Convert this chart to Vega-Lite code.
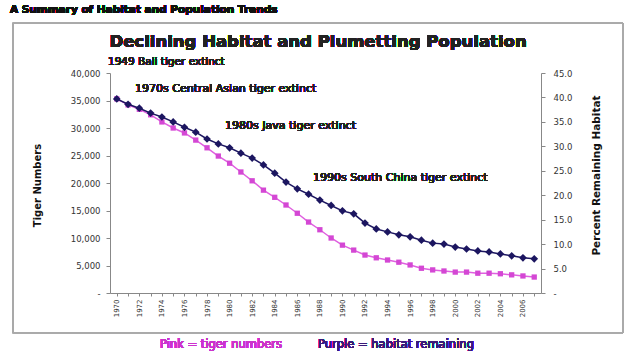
{
  "$schema": "https://vega.github.io/schema/vega-lite/v6.json",
  "width": 431,
  "height": 220,
  "autosize": "none",
  "padding": {"left": 110, "top": 73, "right": 99, "bottom": 58},
  "background": "white",
  "config": {
    "view": {"stroke": null},
    "font": "DejaVu Sans",
    "axis": {"domainColor": "#888", "tickColor": "#888", "labelColor": "#333", "labelFont": "DejaVu Sans", "titleFont": "DejaVu Sans", "grid": false, "labelOverlap": false}
  },
  "data": {
    "values": [
      {"year": 1970, "tigers": 35300, "habitat": 39.7},
      {"year": 1971, "tigers": 34200, "habitat": 38.6},
      {"year": 1972, "tigers": 33400, "habitat": 37.8},
      {"year": 1973, "tigers": 32400, "habitat": 36.8},
      {"year": 1974, "tigers": 31100, "habitat": 36.0},
      {"year": 1975, "tigers": 30000, "habitat": 35.0},
      {"year": 1976, "tigers": 29100, "habitat": 33.9},
      {"year": 1977, "tigers": 27800, "habitat": 32.9},
      {"year": 1978, "tigers": 26400, "habitat": 31.5},
      {"year": 1979, "tigers": 24900, "habitat": 30.5},
      {"year": 1980, "tigers": 23600, "habitat": 29.7},
      {"year": 1981, "tigers": 22000, "habitat": 28.6},
      {"year": 1982, "tigers": 20400, "habitat": 27.6},
      {"year": 1983, "tigers": 18700, "habitat": 26.2},
      {"year": 1984, "tigers": 17400, "habitat": 24.5},
      {"year": 1985, "tigers": 16000, "habitat": 22.7},
      {"year": 1986, "tigers": 14500, "habitat": 21.3},
      {"year": 1987, "tigers": 12900, "habitat": 20.2},
      {"year": 1988, "tigers": 11500, "habitat": 19.0},
      {"year": 1989, "tigers": 10000, "habitat": 17.9},
      {"year": 1990, "tigers": 8700, "habitat": 16.8},
      {"year": 1991, "tigers": 7800, "habitat": 16.2},
      {"year": 1992, "tigers": 6900, "habitat": 14.3},
      {"year": 1993, "tigers": 6400, "habitat": 13.1},
      {"year": 1994, "tigers": 6000, "habitat": 12.5},
      {"year": 1995, "tigers": 5600, "habitat": 11.9},
      {"year": 1996, "tigers": 5100, "habitat": 11.5},
      {"year": 1997, "tigers": 4500, "habitat": 10.8},
      {"year": 1998, "tigers": 4200, "habitat": 10.2},
      {"year": 1999, "tigers": 4000, "habitat": 10.0},
      {"year": 2000, "tigers": 3800, "habitat": 9.4},
      {"year": 2001, "tigers": 3800, "habitat": 9.0},
      {"year": 2002, "tigers": 3600, "habitat": 8.6},
      {"year": 2003, "tigers": 3600, "habitat": 8.4},
      {"year": 2004, "tigers": 3500, "habitat": 8.0},
      {"year": 2005, "tigers": 3300, "habitat": 7.6},
      {"year": 2006, "tigers": 3100, "habitat": 7.2},
      {"year": 2007, "tigers": 2900, "habitat": 7.0}
    ]
  },
  "layer": [
    {
      "mark": {"type": "line", "color": "#e060e0", "strokeWidth": 1.5,
               "point": {"shape": "square", "filled": true, "color": "#d447d4", "size": 28, "opacity": 1}},
      "encoding": {
        "x": {"field": "year", "type": "quantitative",
              "scale": {"domain": [1969.4, 2007.6], "nice": false, "zero": false},
              "axis": {"title": null, "values": [1970,1971,1972,1973,1974,1975,1976,1977,1978,1979,1980,1981,1982,1983,1984,1985,1986,1987,1988,1989,1990,1991,1992,1993,1994,1995,1996,1997,1998,1999,2000,2001,2002,2003,2004,2005,2006,2007],
                       "labelExpr": "datum.value % 2 == 0 ? datum.value : ''", "labelAngle": -90, "labelAlign": "right", "labelBaseline": "middle",
                       "labelFontSize": 7, "tickSize": 3, "labelPadding": 3, "labelOverlap": false, "labelFlush": false}},
        "y": {"field": "tigers", "type": "quantitative",
              "scale": {"domain": [0, 40000], "nice": false},
              "axis": {"title": "Tiger Numbers", "values": [0,5000,10000,15000,20000,25000,30000,35000,40000],
                       "labelExpr": "datum.value == 0 ? '-' : format(datum.value, ',')",
                       "labelFontSize": 8.5, "tickSize": 4, "labelPadding": 6, "labelOverlap": false,
                       "titleFontSize": 10, "titleFontWeight": "bold", "titleColor": "#111",
                       "titleX": -73, "titleY": 112, "titleAngle": -90, "titleBaseline": "middle", "titleAlign": "center"}}
      }
    },
    {
      "mark": {"type": "line", "color": "#1c1660", "strokeWidth": 1.5,
               "point": {"shape": "diamond", "filled": true, "color": "#1c1660", "size": 60, "opacity": 1}},
      "encoding": {
        "x": {"field": "year", "type": "quantitative",
              "scale": {"domain": [1969.4, 2007.6], "nice": false, "zero": false}, "axis": null},
        "y": {"field": "habitat", "type": "quantitative",
              "scale": {"domain": [0, 45], "nice": false},
              "axis": {"orient": "right", "title": "Percent Remaining Habitat", "values": [0,5,10,15,20,25,30,35,40,45],
                       "labelExpr": "datum.value == 0 ? '-' : format(datum.value, '.1f')",
                       "labelFontSize": 8.5, "tickSize": 4, "labelPadding": 8, "labelOverlap": false,
                       "titleFontSize": 10.5, "titleFontWeight": "bold", "titleColor": "#111",
                       "titleX": 55, "titleY": 102, "titleAngle": -90, "titleBaseline": "middle", "titleAlign": "center"}}
      }
    },
    {
      "layer": [
        {
          "mark": {"type": "rect", "fill": null, "stroke": "#aaa", "strokeWidth": 1, "clip": false},
          "encoding": {
            "x": {"datum": 1960.8, "type": "quantitative", "axis": null,
                  "scale": {"domain": [1969.4, 2007.6], "nice": false, "zero": false}},
            "x2": {"datum": 2014.87},
            "y": {"datum": 49090, "type": "quantitative", "axis": null,
                  "scale": {"domain": [0, 40000], "nice": false}},
            "y2": {"datum": -7270}
          }
        },
        {
          "mark": {"type": "text", "text": "A Summary of Habitat and Population Trends", "align": "left", "baseline": "middle", "fontSize": 10.5, "fontWeight": "bold", "color": "#111", "clip": false},
          "encoding": {"x": {"datum": 1960.53, "type": "quantitative", "axis": null}, "y": {"datum": 51450, "type": "quantitative", "axis": null}}
        },
        {
          "mark": {"type": "text", "text": "Declining Habitat and Plumetting Population", "align": "center", "baseline": "middle", "fontSize": 16.5, "fontWeight": "bold", "color": "#222", "clip": false},
          "encoding": {"x": {"datum": 1987.84, "type": "quantitative", "axis": null}, "y": {"datum": 45630, "type": "quantitative", "axis": null}}
        },
        {
          "mark": {"type": "text", "text": "1949 Bali tiger extinct", "align": "left", "baseline": "middle", "fontSize": 10.5, "color": "#222", "clip": false},
          "encoding": {"x": {"datum": 1969.22, "type": "quantitative", "axis": null}, "y": {"datum": 42000, "type": "quantitative", "axis": null}}
        },
        {
          "mark": {"type": "text", "text": "1970s Central Asian tiger extinct", "align": "left", "baseline": "middle", "fontSize": 11, "color": "#222", "clip": false},
          "encoding": {"x": {"datum": 1971.62, "type": "quantitative", "axis": null}, "y": {"datum": 37090, "type": "quantitative", "axis": null}}
        },
        {
          "mark": {"type": "text", "text": "1980s Java tiger extinct", "align": "left", "baseline": "middle", "fontSize": 11, "color": "#222", "clip": false},
          "encoding": {"x": {"datum": 1979.6, "type": "quantitative", "axis": null}, "y": {"datum": 30360, "type": "quantitative", "axis": null}}
        },
        {
          "mark": {"type": "text", "text": "1990s South China tiger extinct", "align": "left", "baseline": "middle", "fontSize": 11, "color": "#222", "clip": false},
          "encoding": {"x": {"datum": 1987.4, "type": "quantitative", "axis": null}, "y": {"datum": 20910, "type": "quantitative", "axis": null}}
        },
        {
          "mark": {"type": "text", "text": "Pink = tiger numbers", "align": "left", "baseline": "middle", "fontSize": 11.5, "color": "#cc33cc", "clip": false},
          "encoding": {"x": {"datum": 1973.83, "type": "quantitative", "axis": null}, "y": {"datum": -9450, "type": "quantitative", "axis": null}}
        },
        {
          "mark": {"type": "text", "text": "Purple = habitat remaining", "align": "left", "baseline": "middle", "fontSize": 11.5, "color": "#3a1a7a", "clip": false},
          "encoding": {"x": {"datum": 1987.84, "type": "quantitative", "axis": null}, "y": {"datum": -9450, "type": "quantitative", "axis": null}}
        }
      ]
    }
  ],
  "resolve": {"scale": {"x": "independent", "y": "independent"}, "axis": {"x": "independent", "y": "independent"}}
}
